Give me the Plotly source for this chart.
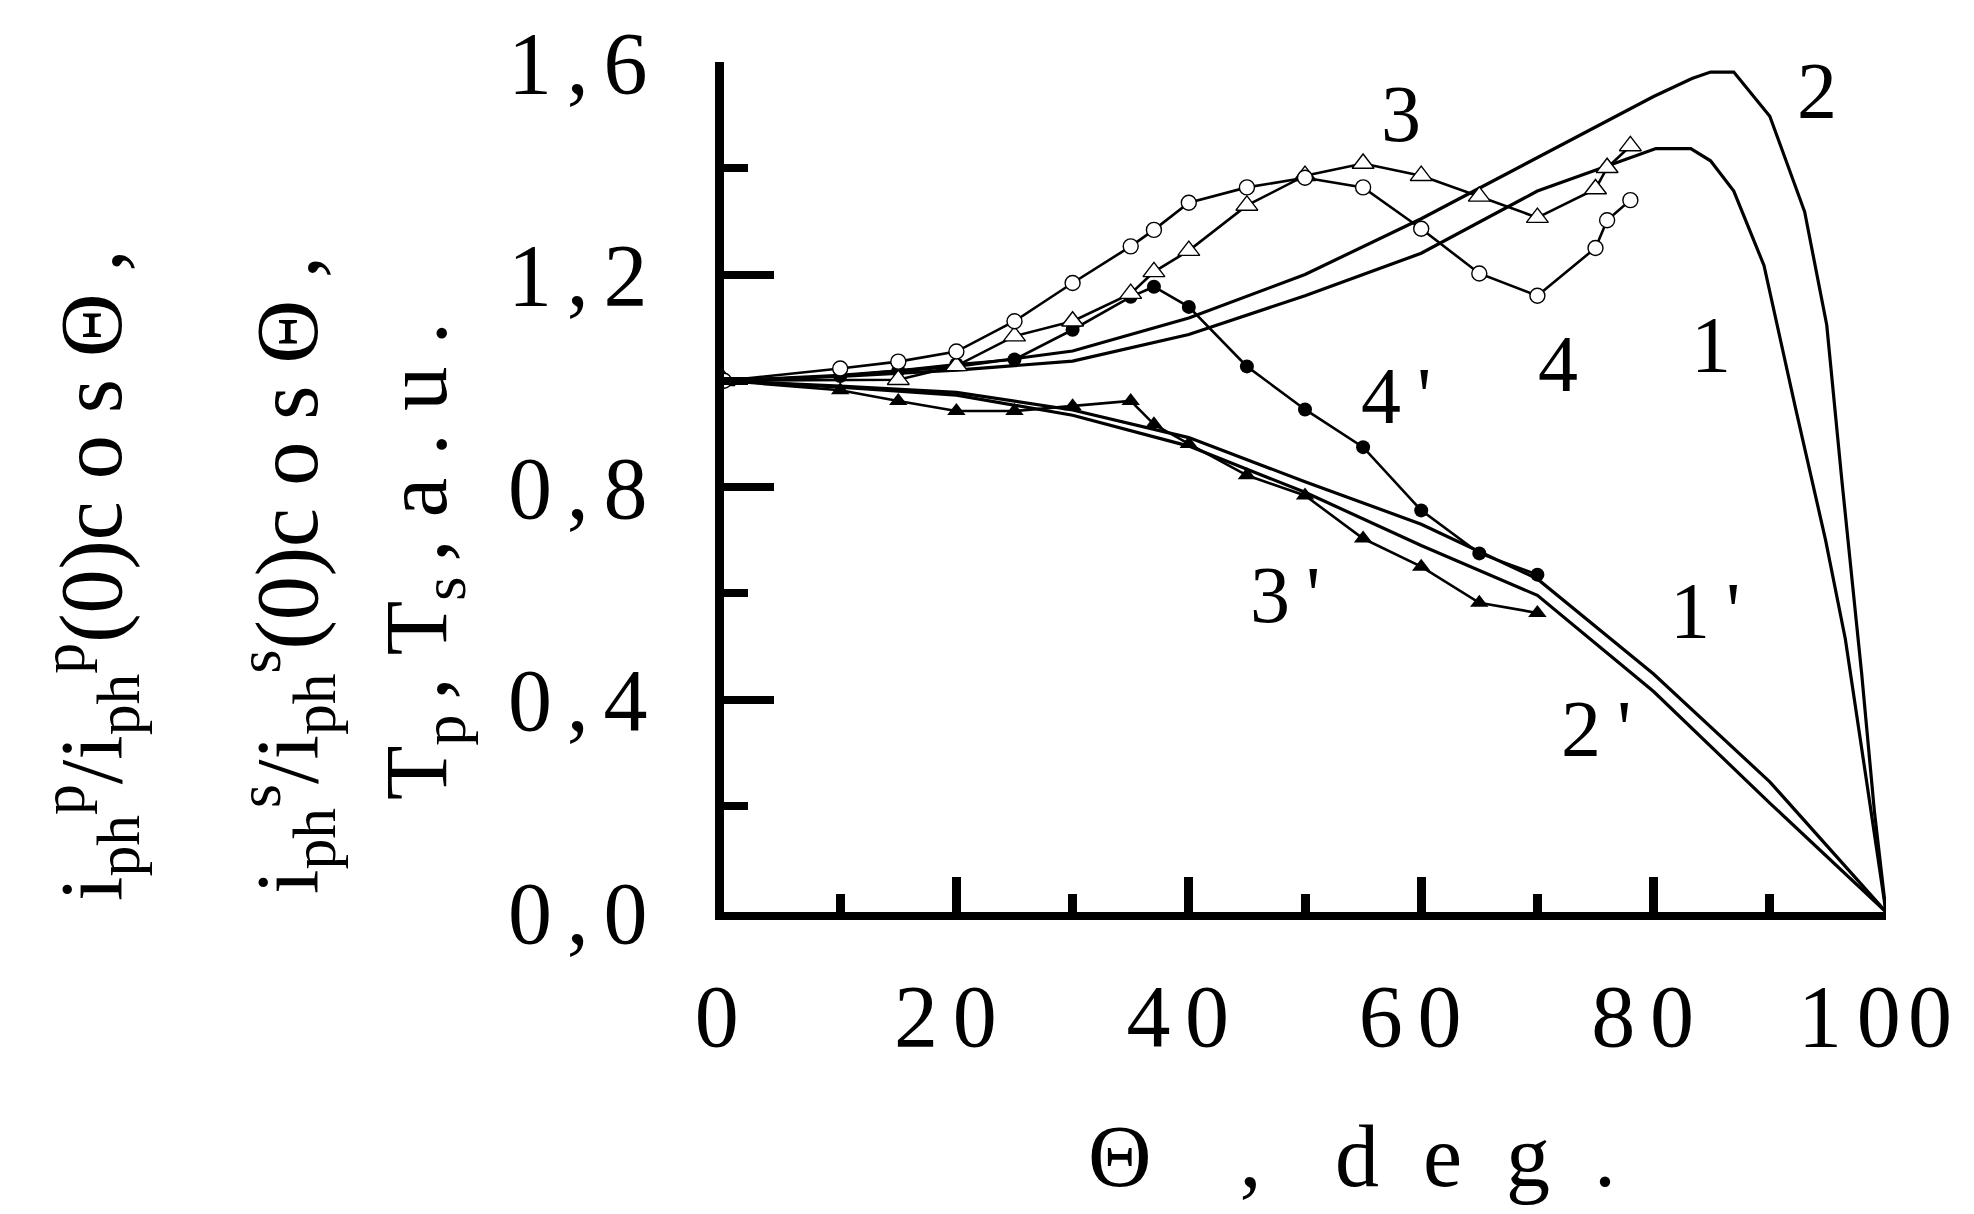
import plotly.graph_objects as go

# ---------------- data ----------------
theta_c2 = [0, 10, 20, 30, 40, 50, 60, 70, 80, 83.3, 84.9, 86.9, 90, 93, 94.9, 96.2, 97.9, 99, 100]
curve_2 = [1.0, 1.01, 1.027, 1.056, 1.118, 1.20, 1.305, 1.42, 1.535, 1.569, 1.581, 1.581, 1.498, 1.318, 1.105, 0.813, 0.45, 0.19, 0.0]

theta_c1 = [0, 10, 20, 30, 40, 50, 60, 70, 80.2, 83.2, 84.9, 86.9, 89.5, 92.2, 94.8, 96.5, 98.2, 100]
curve_1 = [1.0, 1.008, 1.02, 1.037, 1.087, 1.16, 1.24, 1.357, 1.437, 1.437, 1.414, 1.357, 1.217, 0.95, 0.70, 0.514, 0.265, 0.0]

theta_p = [0, 10, 20, 30, 40, 50, 60, 70, 80, 90, 100]
curve_1p = [1.0, 0.99, 0.978, 0.945, 0.893, 0.81, 0.73, 0.627, 0.448, 0.245, 0.0]
curve_2p = [1.0, 0.988, 0.973, 0.935, 0.877, 0.79, 0.69, 0.596, 0.415, 0.205, 0.0]

theta_4 = [0, 10, 15, 20, 25, 30, 35, 37, 40, 45, 50, 55, 60, 65, 70, 75, 76, 78]
curve_4 = [1.0, 1.023, 1.036, 1.055, 1.112, 1.184, 1.253, 1.284, 1.335, 1.364, 1.382, 1.364, 1.286, 1.202, 1.160, 1.250, 1.302, 1.340]

theta_3 = [0, 15, 20, 25, 30, 35, 37, 40, 45, 50, 55, 60, 65, 70, 75, 76, 78]
curve_3 = [1.0, 1.002, 1.028, 1.084, 1.112, 1.164, 1.205, 1.245, 1.330, 1.386, 1.409, 1.386, 1.347, 1.307, 1.361, 1.401, 1.442]

theta_4p = [0, 10, 15, 20, 25, 30, 35, 37, 40, 45, 50, 55, 60, 65, 70]
curve_4p = [1.0, 1.009, 1.019, 1.031, 1.040, 1.096, 1.158, 1.177, 1.139, 1.027, 0.946, 0.875, 0.756, 0.675, 0.635]

theta_3p = [0, 10, 15, 20, 25, 30, 35, 37, 40, 45, 50, 55, 60, 65, 70]
curve_3p = [1.0, 0.982, 0.962, 0.943, 0.943, 0.952, 0.962, 0.918, 0.881, 0.822, 0.784, 0.703, 0.650, 0.582, 0.563]

x_tickvals = [0, 20, 40, 60, 80, 100]
x_ticktext = ["0\u2006", "2\u20060\u2005", "4\u20060\u2005", "6\u20060\u2005", "8\u20060\u2005", "1\u20060\u200a0\u2005"]
y_tickvals = [0.0, 0.4, 0.8, 1.2, 1.6]
y_ticktext = ["0\u2006,\u20060", "0\u2006,\u20064", "0\u2006,\u20068", "1\u2006,\u20062", "1\u2006,\u20066"]

curve_labels = ["3", "2", "1", "4", "4\u2009'", "3\u2009'", "1\u2009'", "2\u2009'"]
label_theta = [58.3, 94.1, 84.9, 71.8, 57.8, 48.3, 84.4, 75.0]
label_value = [1.503, 1.545, 1.067, 1.032, 0.972, 0.596, 0.566, 0.344]

# ---------------- figure ----------------
W, H = 1974, 1214
L, R, T, B = 716, 96, 54, 310
FONT = "Liberation Serif"

fig = go.Figure()
line = dict(color="black", width=3.2)

fig.add_trace(go.Scatter(x=theta_c2, y=curve_2, mode="lines", line=line))
fig.add_trace(go.Scatter(x=theta_c1, y=curve_1, mode="lines", line=line))
fig.add_trace(go.Scatter(x=theta_p, y=curve_1p, mode="lines", line=line))
fig.add_trace(go.Scatter(x=theta_p, y=curve_2p, mode="lines", line=line))

mline = dict(color="black", width=2.6)
fig.add_trace(go.Scatter(x=theta_3p, y=curve_3p, mode="lines+markers", line=mline,
                         marker=dict(symbol="triangle-up", size=16, color="black")))
fig.add_trace(go.Scatter(x=theta_4p, y=curve_4p, mode="lines+markers", line=mline,
                         marker=dict(symbol="circle", size=14, color="black")))
fig.add_trace(go.Scatter(x=theta_3, y=curve_3, mode="lines+markers", line=mline,
                         marker=dict(symbol="triangle-up", size=19, color="white",
                                     line=dict(color="black", width=1.4))))
fig.add_trace(go.Scatter(x=theta_4, y=curve_4, mode="lines+markers", line=mline,
                         marker=dict(symbol="circle", size=15, color="white",
                                     line=dict(color="black", width=1.4))))

for t, xv, yv in zip(curve_labels, label_theta, label_value):
    fig.add_annotation(x=xv, y=yv, xref="x", yref="y", text=t, showarrow=False,
                       font=dict(family=FONT, size=80, color="black"))

pw, ph = W - L - R, H - T - B


def px(xp):
    return (xp - L) / pw


def py(yp):
    return 1 - (yp - T) / ph


# x axis title
fig.add_annotation(x=px(1078), y=py(1148), xref="paper", yref="paper", xanchor="left", yanchor="middle",
                   text="Θ\u2003,\u2002\u2004d\u2002e\u2002g\u2002.", showarrow=False,
                   font=dict(family=FONT, size=88, color="black"))

# y axis title (three rotated lines)
ytitle = [
    "i<sub>ph</sub><sup>p</sup>/i<sub>ph</sub><sup>p</sup>(0)c\u2005o\u2005s\u2005Θ\u2005,",
    "i<sub>ph</sub><sup>s</sup>/i<sub>ph</sub><sup>s</sup>(0)c\u2005o\u2005s\u2005Θ\u2005,",
    "T<sub>p</sub>\u2006,\u2005T<sub>s</sub>\u2006,\u2005a\u2005.\u2005u\u2005.",
]
ytitle_x = [82, 278, 414]
ytitle_y = [567, 567, 553]
ytitle_size = [88, 88, 89]
for t, xp, yp, fs in zip(ytitle, ytitle_x, ytitle_y, ytitle_size):
    fig.add_annotation(x=px(xp), y=py(yp), xref="paper", yref="paper", xanchor="center", yanchor="middle",
                       text=t, textangle=-90, showarrow=False,
                       font=dict(family=FONT, size=fs, color="black"))

fig.update_layout(
    template="none",
    width=W, height=H,
    margin=dict(l=L, r=R, t=T, b=B, autoexpand=False),
    paper_bgcolor="white", plot_bgcolor="white",
    showlegend=False,
    font=dict(family=FONT, color="black"),
    xaxis=dict(range=[0, 100], showgrid=False, zeroline=False, automargin=False,
               showline=True, linecolor="black", linewidth=8,
               tickmode="array", tickvals=x_tickvals, ticktext=x_ticktext,
               ticks="inside", ticklen=35, tickwidth=9, tickcolor="black",
               tickfont=dict(family=FONT, size=88, color="black"),
               ticklabelstandoff=20,
               minor=dict(tickvals=[10, 30, 50, 70, 90], ticks="inside", ticklen=18,
                          tickwidth=9, tickcolor="black", showgrid=False)),
    yaxis=dict(range=[0, 1.6], showgrid=False, zeroline=False, automargin=False,
               showline=True, linecolor="black", linewidth=9,
               tickmode="array", tickvals=y_tickvals, ticktext=y_ticktext,
               ticks="inside", ticklen=50, tickwidth=8, tickcolor="black",
               tickfont=dict(family=FONT, size=88, color="black"),
               ticklabelstandoff=50,
               minor=dict(tickvals=[0.2, 0.6, 1.0, 1.4], ticks="inside", ticklen=24,
                          tickwidth=8, tickcolor="black", showgrid=False)),
)

fig.write_html("out.html")
